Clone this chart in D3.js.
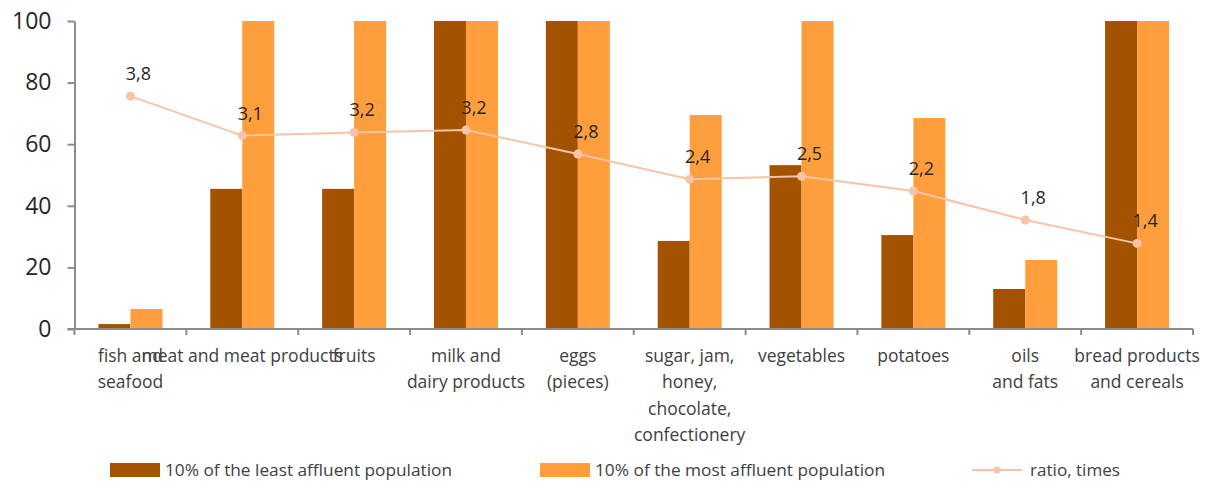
<!DOCTYPE html>
<html>
<head>
<meta charset="utf-8">
<script src="https://cdn.jsdelivr.net/npm/d3@7"></script>
<style>
  html, body { margin: 0; padding: 0; background: #fff; }
  svg { display: block; font-family: "Open Sans", "Liberation Sans", sans-serif; }
</style>
</head>
<body>
<svg id="chart" width="1214" height="483"></svg>
<script>
// ---- data ----
const categories = [
  "fish and seafood", "meat and meat products", "fruits", "milk and dairy products",
  "eggs (pieces)", "sugar, jam, honey, chocolate, confectionery", "vegetables",
  "potatoes", "oils and fats", "bread products and cereals"
];
const categoryLines = [
  ["fish and", "seafood"],
  ["meat and meat products"],
  ["fruits"],
  ["milk and", "dairy products"],
  ["eggs", "(pieces)"],
  ["sugar, jam,", "honey,", "chocolate,", "confectionery"],
  ["vegetables"],
  ["potatoes"],
  ["oils", "and fats"],
  ["bread products", "and cereals"]
];
const leastAffluent = [1.6, 45.5, 45.5, 100, 100, 28.6, 53.2, 30.5, 13.0, 100];
const mostAffluent  = [6.5, 100, 100, 100, 100, 69.5, 100, 68.5, 22.4, 100];
const ratio         = [3.78, 3.14, 3.19, 3.23, 2.84, 2.43, 2.48, 2.24, 1.77, 1.39];
const ratioLabels   = ["3,8", "3,1", "3,2", "3,2", "2,8", "2,4", "2,5", "2,2", "1,8", "1,4"];
const yTicks = [0, 20, 40, 60, 80, 100];
const seriesNames = ["10% of the least affluent population", "10% of the most affluent population", "ratio, times"];

// ---- layout ----
(function () {
const colDark = "#A35200", colLight = "#FF9E3D", colLine = "#F8C3A6", axisCol = "#8C8C8C";
const pLeft = 74.5, pRight = 1193, pTop = 21, pBottom = 329;
const svg = d3.select("#chart");

const x = d3.scaleBand().domain(categories).range([pLeft, pRight]).padding(0);
const bw = x.bandwidth();
const barW = 32;
const x1 = d3.scaleBand().domain(["least", "most"]).range([bw / 2 - barW, bw / 2 + barW]);
const y = d3.scaleLinear().domain([0, 100]).range([pBottom, pTop]);
const yR = d3.scaleLinear().domain([0, 5]).range([pBottom, pTop]);

// bars
const g = svg.append("g");
categories.forEach((c, i) => {
  g.append("rect").attr("x", x(c) + x1("least")).attr("width", x1.bandwidth())
    .attr("y", y(leastAffluent[i])).attr("height", y(0) - y(leastAffluent[i])).attr("fill", colDark);
  g.append("rect").attr("x", x(c) + x1("most")).attr("width", x1.bandwidth())
    .attr("y", y(mostAffluent[i])).attr("height", y(0) - y(mostAffluent[i])).attr("fill", colLight);
});

// y axis
const yAxis = svg.append("g").attr("transform", `translate(${pLeft},0)`)
  .call(d3.axisLeft(y).tickValues(yTicks).tickSize(7).tickPadding(16).tickSizeOuter(0));
yAxis.select(".domain").attr("stroke", axisCol).attr("stroke-width", 2);
yAxis.selectAll(".tick line").attr("stroke", axisCol).attr("stroke-width", 2);
yAxis.selectAll(".tick text").attr("font-size", 23).attr("fill", "#262626")
  .attr("font-family", "'Open Sans', sans-serif");

// x axis
const xAxisG = svg.append("g");
xAxisG.append("line").attr("x1", pLeft - 7).attr("x2", pRight).attr("y1", pBottom).attr("y2", pBottom)
  .attr("stroke", axisCol).attr("stroke-width", 2);
const boundaries = categories.map(c => x(c)).concat([pRight]);
xAxisG.selectAll(".xt").data(boundaries).join("line")
  .attr("x1", d => d).attr("x2", d => d).attr("y1", pBottom).attr("y2", pBottom + 6)
  .attr("stroke", axisCol).attr("stroke-width", 2);

// category labels
categories.forEach((c, i) => {
  const t = svg.append("text").attr("text-anchor", "middle").attr("font-size", 17.5)
    .attr("fill", "#404040");
  categoryLines[i].forEach((ln, k) => {
    t.append("tspan").attr("x", x(c) + bw / 2).attr("y", 362 + k * 26.3).text(ln);
  });
});

// ratio line
const line = d3.line().x((d, i) => x(categories[i]) + bw / 2).y(d => yR(d));
svg.append("path").datum(ratio).attr("d", line).attr("fill", "none")
  .attr("stroke", colLine).attr("stroke-width", 2);
svg.selectAll(".pt").data(ratio).join("circle")
  .attr("cx", (d, i) => x(categories[i]) + bw / 2).attr("cy", d => yR(d)).attr("r", 4.5)
  .attr("fill", colLine);
svg.selectAll(".rl").data(ratio).join("text")
  .attr("x", (d, i) => x(categories[i]) + bw / 2 + 8).attr("y", d => yR(d) - 16)
  .attr("text-anchor", "middle").attr("font-size", 18).attr("fill", "#262626")
  .text((d, i) => ratioLabels[i]);

// legend
const lg = svg.append("g").attr("font-size", 16.5).attr("fill", "#404040");
const ly = 470;
lg.append("rect").attr("x", 110).attr("y", ly - 7).attr("width", 50).attr("height", 14).attr("fill", colDark);
lg.append("text").attr("x", 165).attr("y", ly + 6).attr("textLength", 287)
  .attr("lengthAdjust", "spacingAndGlyphs").text(seriesNames[0]);
lg.append("rect").attr("x", 540).attr("y", ly - 7).attr("width", 50).attr("height", 14).attr("fill", colLight);
lg.append("text").attr("x", 595).attr("y", ly + 6).attr("textLength", 290)
  .attr("lengthAdjust", "spacingAndGlyphs").text(seriesNames[1]);
lg.append("line").attr("x1", 972).attr("x2", 1022).attr("y1", ly).attr("y2", ly)
  .attr("stroke", colLine).attr("stroke-width", 2);
lg.append("circle").attr("cx", 997).attr("cy", ly).attr("r", 3.5).attr("fill", colLine);
lg.append("text").attr("x", 1030).attr("y", ly + 6).attr("textLength", 90)
  .attr("lengthAdjust", "spacingAndGlyphs").text(seriesNames[2]);
})();
</script>
</body>
</html>
